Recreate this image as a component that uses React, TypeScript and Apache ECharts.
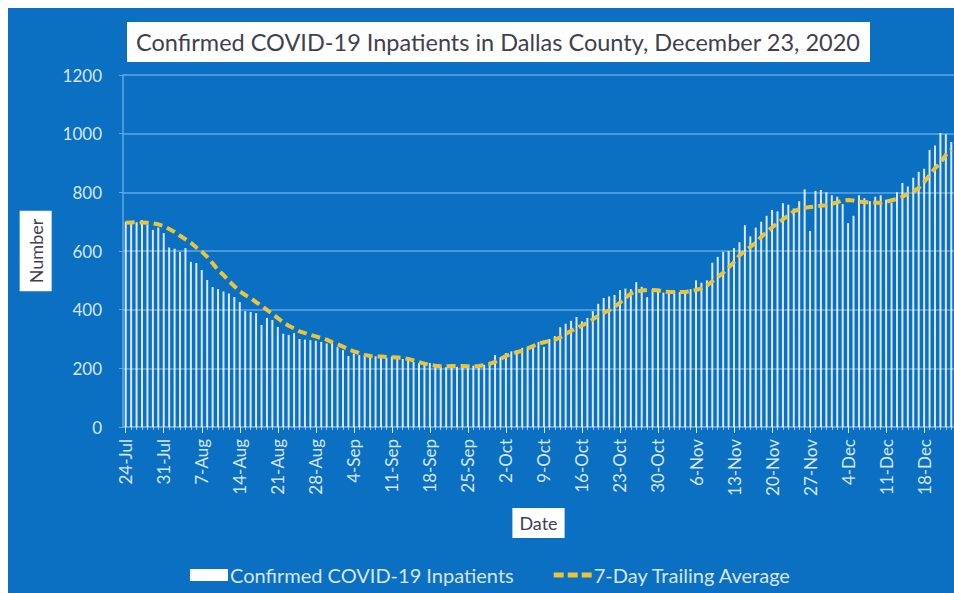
import React, { useEffect, useRef } from "react";
import * as echarts from "echarts";

const MONTHS = ["Jan", "Feb", "Mar", "Apr", "May", "Jun", "Jul", "Aug", "Sep", "Oct", "Nov", "Dec"];
const DAY_COUNT = 153; // 24-Jul-2020 .. 23-Dec-2020
const dates: string[] = Array.from({ length: DAY_COUNT }, (_, i) => {
  const d = new Date(2020, 6, 24 + i);
  return `${d.getDate()}-${MONTHS[d.getMonth()]}`;
});

const inpatients: number[] = [
  700, 702, 698, 705, 690, 672, 680, 661, 612, 608, 597, 610, 563, 559, 535, 501, 477, 470, 462, 455,
  443, 426, 395, 392, 388, 348, 372, 365, 341, 318, 314, 320, 300, 298, 296, 294, 290, 285, 286, 272,
  262, 242, 250, 245, 240, 238, 241, 239, 236, 240, 238, 232, 228, 222, 218, 215, 218, 208, 205, 204,
  206, 205, 207, 204, 209, 210, 212, 222, 245, 238, 252, 258, 262, 270, 273, 278, 290, 273, 300, 310,
  340, 352, 362, 375, 360, 372, 395, 420, 440, 445, 450, 467, 472, 470, 494, 478, 443, 470, 462, 458,
  455, 465, 460, 462, 470, 500, 492, 500, 560, 580, 597, 600, 610, 630, 688, 650, 680, 700, 720, 740,
  735, 763, 758, 745, 770, 810, 668, 805, 808, 800, 790, 785, 760, 695, 720, 790, 780, 770, 785, 790,
  775, 765, 800, 832, 820, 850, 870, 880, 944, 960, 1002, 998, 972,
];

const trailingAvg: number[] = [
  696, 697, 698, 697, 696, 694, 691, 685, 675, 665, 652, 640, 628, 612, 598, 580, 558, 535, 518, 498,
  480, 463, 450, 440, 426, 413, 399, 386, 371, 357, 345, 336, 326, 320, 314, 309, 303, 298, 289, 282,
  274, 265, 258, 252, 246, 242, 241, 240, 239, 238, 237, 235, 232, 227, 221, 216, 212, 209, 207, 207,
  208, 208, 208, 207, 207, 208, 211, 215, 222, 232, 242, 249, 255, 260, 268, 276, 284, 289, 293, 297,
  306, 317, 328, 337, 346, 355, 367, 379, 389, 398, 410, 424, 440, 455, 462, 465, 467, 467, 466, 462,
  460, 460, 460, 460, 463, 467, 472, 482, 497, 511, 526, 543, 562, 585, 600, 614, 628, 648, 665, 680,
  695, 708, 721, 735, 743, 747, 750, 752, 754, 756, 761, 766, 772, 774, 772, 768, 767, 766, 765, 764,
  768, 773, 777, 785, 795, 802, 815, 835, 858, 882, 900, 928, 945,
];

const Y_MAX = 1200;
const Y_STEP = 200;

const TITLE = "Confirmed COVID-19 Inpatients in Dallas County, December 23, 2020";
const BAR_NAME = "Confirmed COVID-19 Inpatients";
const LINE_NAME = "7-Day Trailing Average";

const BG = "#0B6FC2";
const LIGHT = "#D6E6F6";
const GRID = "#63A6E4";
const YELLOW = "#E9C53B";
const DARK = "#3F3F4F";
const FONT = "Lato, 'Open Sans', sans-serif";

if (typeof document !== "undefined") {
  document.documentElement.style.overflow = "hidden";
}

export default function App() {
  const ref = useRef<HTMLDivElement>(null);

  useEffect(() => {
    if (!ref.current) return;
    const chart = echarts.init(ref.current, undefined, { renderer: "svg" });
    chart.setOption({
      animation: false,
      backgroundColor: BG,
      textStyle: { fontFamily: FONT },
      grid: { left: 115, top: 67, width: 831, height: 352 },
      graphic: [
        {
          type: "rect",
          shape: { x: 119, y: 14, width: 743, height: 40 },
          style: { fill: "#ffffff" },
          z: 10,
        },
        {
          type: "text",
          x: 490,
          y: 34,
          style: {
            text: TITLE,
            fill: DARK,
            font: `23.5px ${FONT}`,
            align: "center",
            verticalAlign: "middle",
          },
          z: 11,
        },
      ],
      legend: {
        left: 177,
        top: 552,
        itemWidth: 38,
        itemHeight: 12,
        itemGap: 40,
        textStyle: { color: LIGHT, fontSize: 20, fontFamily: FONT, padding: [0, 0, 0, -3] },
        data: [
          { name: BAR_NAME, icon: "rect", itemStyle: { color: "#ffffff" } },
          {
            name: LINE_NAME,
            icon: "path://M0,0H10V5H0Z M14,0H24V5H14Z M28,0H38V5H28Z",
            itemStyle: { color: YELLOW },
          },
        ],
      },
      xAxis: [
        {
          type: "category",
          data: dates,
          boundaryGap: true,
          name: "Date",
          nameLocation: "middle",
          nameGap: 81,
          nameTextStyle: {
            color: DARK,
            fontSize: 18,
            fontFamily: FONT,
            backgroundColor: "#ffffff",
            padding: [6, 7, 6, 7],
          },
          axisLine: { show: true, lineStyle: { color: GRID, width: 1.5 } },
          axisTick: { show: true, interval: 6, alignWithLabel: true, length: 6, lineStyle: { color: LIGHT } },
          axisLabel: {
            interval: 6,
            rotate: 90,
            color: LIGHT,
            fontSize: 17,
            fontFamily: FONT,
            margin: 12,
          },
          splitLine: { show: false },
        },
        {
          type: "category",
          data: dates,
          boundaryGap: true,
          position: "bottom",
          axisLine: { show: false },
          axisTick: { show: true, interval: 0, alignWithLabel: true, length: 3, lineStyle: { color: LIGHT, opacity: 0.7 } },
          axisLabel: { show: false },
          splitLine: { show: false },
        },
      ],
      yAxis: {
        type: "value",
        min: 0,
        max: Y_MAX,
        interval: Y_STEP,
        name: "Number",
        nameLocation: "middle",
        nameRotate: 90,
        nameGap: 65,
        nameTextStyle: {
          color: DARK,
          fontSize: 18,
          fontFamily: FONT,
          backgroundColor: "#ffffff",
          padding: [7, 8, 7, 8],
        },
        axisLine: { show: true, lineStyle: { color: GRID, width: 1.5 } },
        axisTick: { show: true, length: 4, lineStyle: { color: GRID } },
        axisLabel: {
          color: LIGHT,
          fontSize: 17,
          fontFamily: FONT,
          margin: 21,
          formatter: (v: number) => String(v),
        },
        splitLine: { show: true, lineStyle: { color: GRID, width: 1.5 } },
      },
      series: [
        {
          name: BAR_NAME,
          type: "bar",
          data: inpatients,
          barWidth: 2,
          itemStyle: { color: "rgba(255,255,255,0.85)" },
          z: 2,
        },
        {
          name: LINE_NAME,
          type: "line",
          data: trailingAvg,
          symbol: "none",
          showSymbol: false,
          lineStyle: { color: YELLOW, width: 4, type: [9, 5] },
          itemStyle: { color: YELLOW },
          z: 3,
        },
      ],
    });
    return () => chart.dispose();
  }, []);

  return (
    <div
      ref={ref}
      style={{ position: "fixed", left: 8, top: 8, width: 946, height: 585 }}
    />
  );
}
